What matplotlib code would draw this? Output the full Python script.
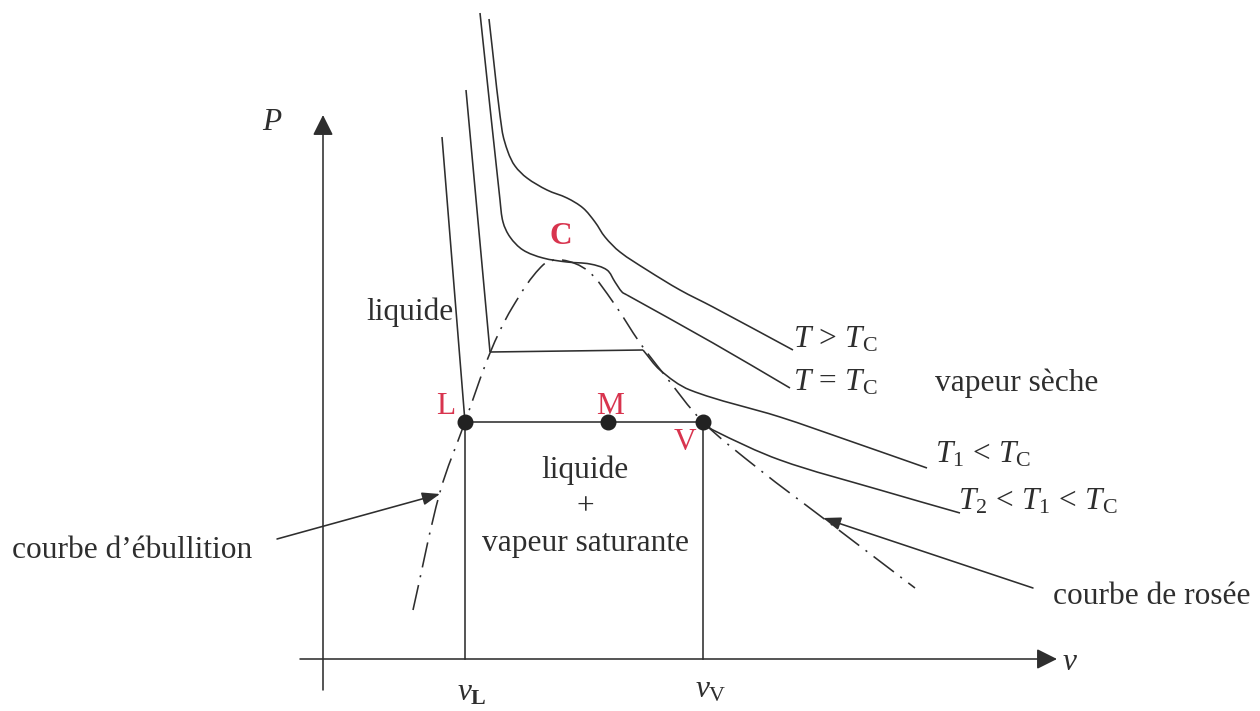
import math
import matplotlib
matplotlib.use("Agg")
import matplotlib.pyplot as plt
from matplotlib.path import Path
from matplotlib.patches import PathPatch

# ---- Clapeyron diagram (P, v) of a pure substance: schematic data in drawing units ----
# Axis frame
axis_origin = (323, 659)
p_axis_span = (690, 115)      # vertical axis: bottom, arrow tip
v_axis_span = (300, 1057)     # horizontal axis: left, arrow tip

# Saturation dome (bubble curve + dew curve), passes through C at its top
dome_v = [413, 440, 465, 490, 512, 543, 562, 588, 613, 640, 663, 703, 760, 823, 915]
dome_p = [610, 492, 422, 353, 308, 265, 260, 271, 302, 343, 373, 422, 470, 518, 588]

# Isotherm T > Tc
iso_hot_v = [489, 502, 508, 515, 527, 547, 567, 583, 595, 605, 620, 647, 680, 713, 793]
iso_hot_p = [19, 130, 152, 166, 178, 190, 198, 208, 222, 237, 252, 270, 290, 307, 350]

# Critical isotherm T = Tc (smooth part, then the straight vapour branch)
iso_crit_v = [480, 500, 503, 510, 523, 543, 567, 590, 607, 615, 622, 627]
iso_crit_p = [13, 200, 222, 237, 250, 258, 262, 264, 270, 282, 292, 295]
iso_crit_tail_v = [627, 713, 790]
iso_crit_tail_p = [295, 343, 388]

# Isotherm T1 < Tc: liquid branch, plateau, vapour branch
iso_t1_liq_v = [466, 490]
iso_t1_liq_p = [90, 352]
iso_t1_plateau_v = [490, 643]
iso_t1_plateau_p = [352, 350]
iso_t1_vap_v = [643, 660, 690, 780, 847, 927]
iso_t1_vap_p = [350, 370, 390, 417, 440, 468]

# Isotherm T2 < T1 < Tc: liquid branch, plateau L-V, vapour branch
iso_t2_liq_v = [442, 465]
iso_t2_liq_p = [137, 422]
iso_t2_vap_v = [703, 713, 780, 880, 960]
iso_t2_vap_p = [422, 430, 460, 490, 513]

# Points on the T2 plateau
point_names = ["L", "M", "V"]
point_v = [465, 608, 703]
point_p = [422, 422, 422]

INK = "#2e2e2e"
RED = "#d8344e"
SERIF = "Liberation Serif"

plt.rcParams["mathtext.fontset"] = "custom"
plt.rcParams["mathtext.rm"] = SERIF
plt.rcParams["mathtext.it"] = SERIF + ":italic"
plt.rcParams["mathtext.bf"] = SERIF + ":bold"
plt.rcParams["font.family"] = [SERIF, "DejaVu Sans"]

fig = plt.figure(figsize=(12.6, 7.11), dpi=100)
ax = fig.add_axes([0, 0, 1, 1])
ax.set_xlim(0, 1260)
ax.set_ylim(711, 0)
ax.axis("off")

LW = 1.15
FS = 22.6


def _unit(dx, dy):
    d = math.hypot(dx, dy) or 1.0
    return dx / d, dy / d


def smooth_path(xs, ys):
    """Cubic Bezier path through the given points.

    Tangent directions come from the neighbouring points, handle lengths
    from the length of each segment, so uneven spacing stays smooth.
    """
    pts = list(zip(xs, ys))
    n = len(pts)
    tangents = []
    for i in range(n):
        a = pts[i - 1] if i > 0 else pts[i]
        b = pts[i + 1] if i + 1 < n else pts[i]
        tangents.append(_unit(b[0] - a[0], b[1] - a[1]))
    verts = [pts[0]]
    codes = [Path.MOVETO]
    for i in range(n - 1):
        p1, p2 = pts[i], pts[i + 1]
        h = math.hypot(p2[0] - p1[0], p2[1] - p1[1]) / 3
        t1, t2 = tangents[i], tangents[i + 1]
        verts += [(p1[0] + t1[0] * h, p1[1] + t1[1] * h),
                  (p2[0] - t2[0] * h, p2[1] - t2[1] * h), p2]
        codes += [Path.CURVE4] * 3
    return Path(verts, codes)


def draw_curve(xs, ys, **kw):
    patch = PathPatch(smooth_path(xs, ys), facecolor="none", edgecolor=INK,
                      lw=LW, capstyle="butt", joinstyle="round", **kw)
    ax.add_patch(patch)


# Axes with arrows
axis_arrow = dict(arrowstyle="-|>,head_length=0.5,head_width=0.25",
                  mutation_scale=25, lw=LW, color=INK, shrinkA=0, shrinkB=0)
ax.annotate("", xy=(axis_origin[0], p_axis_span[1]),
            xytext=(axis_origin[0], p_axis_span[0]), arrowprops=axis_arrow)
ax.annotate("", xy=(v_axis_span[1], axis_origin[1]),
            xytext=(v_axis_span[0], axis_origin[1]), arrowprops=axis_arrow)

# Saturation dome (dash-dot)
draw_curve(dome_v, dome_p, linestyle=(0, (16, 5, 1.3, 5)))

# Isotherms
draw_curve(iso_hot_v, iso_hot_p)
draw_curve(iso_crit_v, iso_crit_p)
draw_curve(iso_crit_tail_v, iso_crit_tail_p)
draw_curve(iso_t1_liq_v, iso_t1_liq_p)
draw_curve(iso_t1_plateau_v, iso_t1_plateau_p)
draw_curve(iso_t1_vap_v, iso_t1_vap_p)
draw_curve(iso_t2_liq_v, iso_t2_liq_p)
draw_curve([point_v[0], point_v[2]], [point_p[0], point_p[2]])
draw_curve(iso_t2_vap_v, iso_t2_vap_p)

# Verticals down to the specific volumes vL and vV
for vx, py in [(point_v[0], point_p[0]), (point_v[2], point_p[2])]:
    ax.plot([vx, vx], [py, axis_origin[1]], color=INK, lw=LW)

# Points L, M, V
ax.plot(point_v, point_p, "o", color="#222222", ms=10.5, zorder=5)
label_offsets = {"L": (-19, -16), "M": (2, -16), "V": (-18, 21)}
for name, vx, py in zip(point_names, point_v, point_p):
    dx, dy = label_offsets[name]
    ax.text(vx + dx, py + dy, name, color=RED, fontsize=FS, ha="center",
            va="center")

# Critical point label
ax.text(561, 236, "C", color=RED, fontsize=FS, fontweight="bold",
        ha="center", va="center")

# Axis labels
ax.text(272, 122, r"$P$", fontsize=FS, color=INK, ha="center", va="center")
ax.text(1070, 663, r"$v$", fontsize=FS, color=INK, ha="center", va="center")
ax.text(472, 693, r"$v_{\mathbf{L}}$", fontsize=FS, color=INK,
        ha="center", va="center")
ax.text(711, 690, r"$v_{\mathrm{V}}$", fontsize=FS, color=INK,
        ha="center", va="center")

# Region labels
ax.text(410, 312, "liquide", fontsize=FS, color=INK, ha="center", va="center")
ax.text(585, 470, "liquide", fontsize=FS, color=INK, ha="center", va="center")
ax.text(585, 507, "+", fontsize=FS, color=INK, ha="center", va="center")
ax.text(585, 543, "vapeur saturante", fontsize=FS, color=INK,
        ha="center", va="center")
ax.text(935, 383, "vapeur sèche", fontsize=FS, color=INK, ha="left",
        va="center")

# Isotherm labels
ax.text(793, 340, r"$T\,>\,T_{\mathrm{C}}$", fontsize=FS, color=INK,
        ha="left", va="center")
ax.text(793, 383, r"$T\,=\,T_{\mathrm{C}}$", fontsize=FS, color=INK,
        ha="left", va="center")
ax.text(935, 455, r"$T_{\mathrm{1}}\,<\,T_{\mathrm{C}}$", fontsize=FS,
        color=INK, ha="left", va="center")
ax.text(958, 502,
        r"$T_{\mathrm{2}}\,<\,T_{\mathrm{1}}\,<\,T_{\mathrm{C}}$",
        fontsize=FS, color=INK, ha="left", va="center")

# Curve names with pointers
pointer = dict(arrowstyle="-|>,head_length=0.6,head_width=0.22",
               mutation_scale=18, lw=LW, color=INK, shrinkA=0, shrinkB=0)
ax.text(12, 550, "courbe d\u2019ébullition", fontsize=FS, color=INK,
        ha="left", va="center")
ax.annotate("", xy=(440, 494), xytext=(277, 539), arrowprops=pointer)
ax.text(1053, 597, "courbe de rosée", fontsize=FS, color=INK,
        ha="left", va="center")
ax.annotate("", xy=(823, 518), xytext=(1033, 588), arrowprops=pointer)

fig.savefig("out.png", dpi=100, facecolor="white")
